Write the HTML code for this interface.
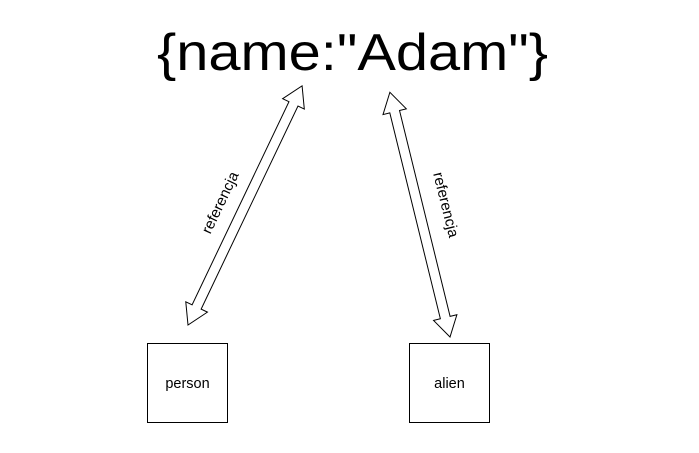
<!DOCTYPE html>
<html><head><meta charset="utf-8"><style>
html,body{margin:0;padding:0;background:#fff;}
svg{display:block;}
text{font-family:"Liberation Sans",Arial,sans-serif;fill:#000;}
</style></head><body>
<svg width="699" height="453" viewBox="0 0 699 453" xmlns="http://www.w3.org/2000/svg">
<text x="157" y="70" font-size="52" textLength="391" lengthAdjust="spacingAndGlyphs">{name:"Adam"}</text>
<g transform="translate(188,325) rotate(-64.5)">
<polygon points="0,0 20,-12 20,-5 245,-5 245,-12 265,0 245,12 245,5 20,5 20,12" fill="#fff" stroke="#000" stroke-width="1"/>
</g>
<g transform="translate(450,337) rotate(-103.8)">
<polygon points="0,0 20,-12 20,-5 232,-5 232,-12 252,0 232,12 232,5 20,5 20,12" fill="#fff" stroke="#000" stroke-width="1"/>
</g>
<text transform="translate(221,203) rotate(-64.5)" font-size="15" text-anchor="middle" dominant-baseline="middle">referencja</text>
<text transform="translate(445,205) rotate(76)" font-size="15" text-anchor="middle" dominant-baseline="middle">referencja</text>
<rect x="147.5" y="343.5" width="80" height="79" fill="#fff" stroke="#000"/>
<rect x="409.5" y="343.5" width="80" height="79" fill="#fff" stroke="#000"/>
<text x="187.5" y="388" font-size="14.5" text-anchor="middle">person</text>
<text x="449.5" y="388" font-size="14.5" text-anchor="middle">alien</text>
</svg>
</body></html>
